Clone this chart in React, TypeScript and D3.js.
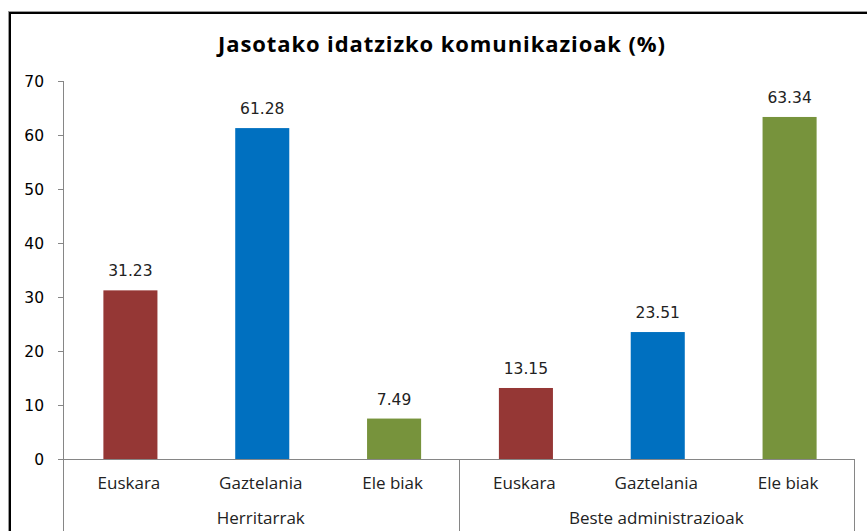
import React from "react";
import * as d3 from "d3";

const groups = ["Herritarrak", "Beste administrazioak"];
const languages = ["Euskara", "Gaztelania", "Ele biak"];
const colors = ["#953735", "#0070C0", "#77933C"];
const valuesHerritarrak = [31.23, 61.28, 7.49];
const valuesBeste = [13.15, 23.51, 63.34];
const yTicks = [0, 10, 20, 30, 40, 50, 60, 70];
const title = "Jasotako idatzizko komunikazioak (%)";

const W = 867;
const H = 531;
const left = 63;
const right = 854;
const top = 81;
const base = 459;

export default function App() {
  const series = [valuesHerritarrak, valuesBeste];
  const cats = groups.flatMap((g, gi) => languages.map((l, li) => ({ key: `${gi}-${li}`, g, gi, l, li, v: series[gi][li] })));
  const x = d3.scaleBand<string>().domain(cats.map((c) => c.key)).range([left, right]).paddingInner(0).paddingOuter(0);
  const y = d3.scaleLinear().domain([0, 70]).range([base, top]);
  const bw = x.bandwidth() * 0.41;
  const groupX = d3.scaleBand<string>().domain(groups).range([left, right]);
  const axisColor = "#868686";
  const numFont = "DejaVu Sans";
  const txtFont = "Open Sans";
  return (
    <div style={{ position: "absolute", left: 0, top: 0 }}>
      <svg width={W} height={H} style={{ display: "block", background: "#fff" }}>
        <line x1={8.5} y1={11} x2={8.5} y2={H} stroke="#9a9a9a" strokeWidth={1} />
        <line x1={8} y1={11.5} x2={W} y2={11.5} stroke="#9a9a9a" strokeWidth={1} />
        <line x1={10} y1={12.5} x2={10} y2={H} stroke="#000" strokeWidth={2} />
        <line x1={9} y1={13} x2={W} y2={13} stroke="#000" strokeWidth={2} />
        <text x={442} y={52} textAnchor="middle" fontFamily={txtFont} fontWeight="bold" fontSize={22} letterSpacing={0.9} fill="#000">
          {title}
        </text>
        {/* y axis */}
        <line x1={left + 0.5} y1={top} x2={left + 0.5} y2={H} stroke={axisColor} />
        {yTicks.map((t) => (
          <g key={t}>
            <line x1={left - 5} x2={left} y1={Math.round(y(t)) + 0.5} y2={Math.round(y(t)) + 0.5} stroke={axisColor} />
            <text x={44} y={y(t) + 5.5} textAnchor="end" fontFamily={numFont} fontSize={15.5} fill="#000">
              {t}
            </text>
          </g>
        ))}
        {/* bars */}
        {cats.map((c) => {
          const cx = (x(c.key) as number) + x.bandwidth() / 2 + 1.5;
          return (
            <g key={c.key}>
              <rect x={cx - bw / 2} y={y(c.v)} width={bw} height={base - y(c.v)} fill={colors[c.li]} />
              <text x={cx} y={y(c.v) - 14} textAnchor="middle" fontFamily={numFont} fontSize={15.5} fill="#222">
                {c.v.toFixed(2)}
              </text>
              <text x={cx - 1.5} y={489} textAnchor="middle" fontFamily={txtFont} fontSize={17} fill="#222">
                {c.l}
              </text>
            </g>
          );
        })}
        {/* category axis */}
        <line x1={left} x2={right + 0.5} y1={base + 0.5} y2={base + 0.5} stroke={axisColor} />
        {groups.map((g) => (
          <g key={g}>
            <line
              x1={Math.round((groupX(g) as number) + groupX.bandwidth()) + 0.5}
              x2={Math.round((groupX(g) as number) + groupX.bandwidth()) + 0.5}
              y1={base}
              y2={H}
              stroke={axisColor}
            />
            <text x={(groupX(g) as number) + groupX.bandwidth() / 2} y={524} textAnchor="middle" fontFamily={txtFont} fontSize={17} fill="#222">
              {g}
            </text>
          </g>
        ))}
      </svg>
    </div>
  );
}
